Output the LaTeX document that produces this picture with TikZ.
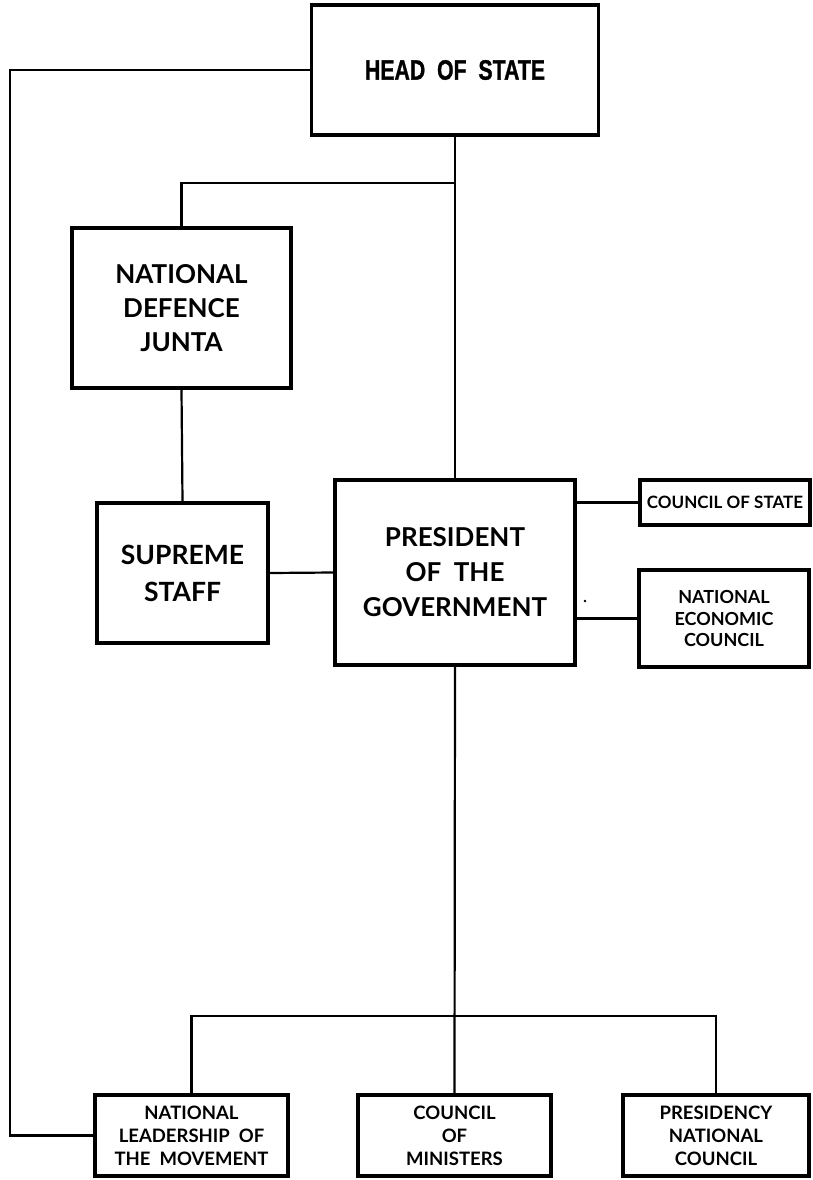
\documentclass[tikz,border=0pt]{standalone}
\usepackage{fontspec}
\setmainfont{Lato}
\newfontfamily\headfont{Liberation Sans}[BoldFeatures={FakeBold=1.2}]
\begin{document}
\begin{tikzpicture}[x=1pt,y=-1pt,
  box/.style={draw, line width=3.6pt, fill=white, align=center, inner sep=0pt,
              font=\bfseries},
  link/.style={line width=2.2pt},
  big/.style={font=\bfseries\fontsize{26}{35}\selectfont},
  small/.style={font=\bfseries\fontsize{17}{21.5}\selectfont},
  mid/.style={font=\bfseries\fontsize{18}{21.5}\selectfont},
  low/.style={font=\bfseries\fontsize{18.5}{23}\selectfont}]
\useasboundingbox (0,0) rectangle (812,1180);

% boxes (centre, size)
\node[box, minimum width=287pt, minimum height=130pt] (head) at (455,70)
  {\headfont\bfseries\fontsize{28}{30}\selectfont\scalebox{0.76}[1]{HEAD\ \ OF\ \ STATE}};
\node[box, minimum width=219pt, minimum height=160pt, font=\bfseries\fontsize{26}{34}\selectfont]
  (junta) at (181.5,308) {NATIONAL\\DEFENCE\\JUNTA};
\node[box, minimum width=171pt, minimum height=140pt, font=\bfseries\fontsize{26.5}{37}\selectfont]
  (staff) at (182.5,573) {SUPREME\\STAFF};
\node[box, big, minimum width=240pt, minimum height=185pt] (pres) at (455,572.5)
  {PRESIDENT\\OF\ \ THE\\GOVERNMENT};
\node[box, small, minimum width=170pt, minimum height=45pt] (cos) at (725,502.5)
  {COUNCIL OF STATE};
\node[box, mid, minimum width=170pt, minimum height=97pt] (nec) at (724,618.5)
  {NATIONAL\\ECONOMIC\\COUNCIL};
\node[box, low, minimum width=193pt, minimum height=81pt] (lead) at (191.5,1135.5)
  {NATIONAL\\LEADERSHIP\ \ OF\\THE\ \ MOVEMENT};
\node[box, low, minimum width=193pt, minimum height=81pt] (com) at (454.5,1135.5)
  {COUNCIL\\OF\\MINISTERS};
\node[box, low, minimum width=186pt, minimum height=81pt] (pnc) at (716,1135.5)
  {PRESIDENCY\\NATIONAL\\COUNCIL};

% branch points
\coordinate (jb) at (455,183);
\coordinate (bb) at (455,1016);
\coordinate (lc) at (10,0);

% connectors
\draw[link] (head.south) -- (pres.north);
\draw[link] (jb) -| (junta.north);
\draw[link] (junta.south) -- (staff.north);
\draw[link] (staff.east) -- (pres.west);
\draw[link] (pres.east |- cos.west) -- (cos.west);
\draw[link] (pres.east |- nec.west) -- (nec.west);
\draw[link] (pres.south) -- (com.north);
\draw[link] (lead.north) |- (bb) -| (pnc.north);
\draw[link] (head.west) -| (lc |- lead.west) -- (lead.west);

% stray ink speck beside the president's box
\fill (585,601) circle (1.3pt);
\end{tikzpicture}
\end{document}
